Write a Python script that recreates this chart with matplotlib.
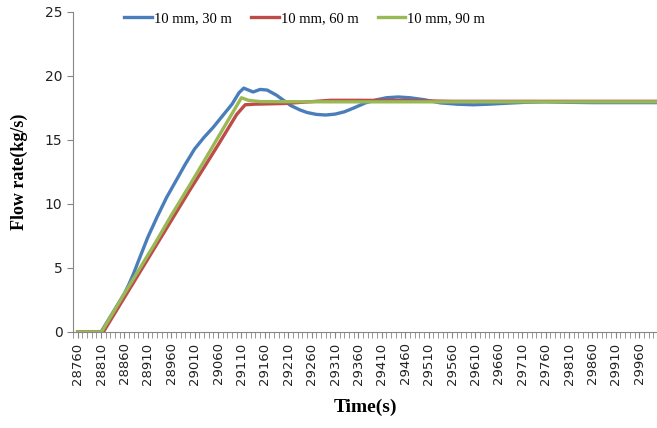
import numpy as np
import matplotlib
matplotlib.use("Agg")
import matplotlib.pyplot as plt
from matplotlib.ticker import MultipleLocator

# data (time in s, flow rate in kg/s)
t_30 = [28760, 28810, 28820, 28840, 28860, 28870, 28880, 28890, 28910, 28930, 28950,
        28970, 28990, 29010, 29030, 29050, 29070, 29090, 29105, 29115, 29125,
        29135, 29150, 29165, 29185, 29200, 29215, 29235, 29250, 29270, 29290,
        29310, 29330, 29350, 29375, 29400, 29420, 29445, 29470, 29500, 29535,
        29570, 29605, 29640, 29680, 29720, 29760, 29800, 29860, 30000]
q_30 = [0, 0, 0.6, 1.8, 3.0, 3.75, 4.6, 5.55, 7.4, 9.0, 10.5,
        11.8, 13.1, 14.3, 15.2, 16.0, 16.9, 17.8, 18.7, 19.05, 18.9,
        18.75, 18.95, 18.9, 18.5, 18.1, 17.7, 17.35, 17.15, 17.0, 16.95,
        17.02, 17.2, 17.5, 17.9, 18.15, 18.3, 18.36, 18.3, 18.15, 17.9,
        17.8, 17.75, 17.8, 17.88, 17.95, 17.98, 17.95, 17.92, 17.92]

t_60 = [28760, 28815, 28860, 28900, 28960, 29000, 29031, 29060, 29100, 29118,
        29140, 29200, 29262, 29300, 29360, 29460, 29560, 30000]
q_60 = [0, 0, 2.7, 5.1, 8.7, 11.1, 12.9, 14.6, 17.0, 17.75,
        17.8, 17.85, 18.0, 18.1, 18.1, 18.08, 18.02, 18.02]

t_90 = [28760, 28811, 28860, 28900, 28925, 28960, 29000, 29031, 29060, 29110,
        29125, 29150, 29300, 30000]
q_90 = [0, 0, 3.0, 5.4, 6.9, 9.1, 11.5, 13.4, 15.2, 18.3,
        18.1, 18.0, 17.98, 17.98]

labels = ['10 mm, 30 m', '10 mm, 60 m', '10 mm, 90 m']
colors = ['#4A7EBB', '#BE4B48', '#98B954']
xticks = list(range(28760, 29961, 50))

fig = plt.figure(figsize=(6.57, 4.28), dpi=100)
ax = fig.add_axes([0.111, 0.2243, 0.889, 0.7477])

ax.plot(t_30, q_30, color=colors[0], lw=2.4, label=labels[0])
ax.plot(t_60, q_60, color=colors[1], lw=2.4, label=labels[1])
ax.plot(t_90, q_90, color=colors[2], lw=2.4, label=labels[2])

ax.set_xlim(28750, 29998)
ax.set_ylim(0, 25)
ax.set_xticks(xticks)
ax.set_xticklabels([str(v) for v in xticks], rotation=90, fontsize=9.5,
                   family='DejaVu Sans', color='#222222')
ax.xaxis.set_minor_locator(MultipleLocator(10))
ax.set_yticks(range(0, 26, 5))
ax.tick_params(axis='y', labelsize=10, length=4, color='#868686', colors='#222222')
ax.tick_params(axis='x', which='both', length=4, color='#868686')

for s in ['top', 'right']:
    ax.spines[s].set_visible(False)
for s in ['left', 'bottom']:
    ax.spines[s].set_color('#868686')
    ax.spines[s].set_linewidth(0.8)

ax.set_xlabel('Time(s)', family='Liberation Serif', fontweight='bold', fontsize=14,
              labelpad=10)
ax.set_ylabel('Flow rate(kg/s)', family='Liberation Serif', fontweight='bold', fontsize=13,
              labelpad=12)

ax.legend(loc='upper center', bbox_to_anchor=(0.397, 1.04), ncol=3, frameon=False,
          prop={'family': 'Liberation Serif', 'size': 10.5}, handlelength=1.9,
          handletextpad=0.15, columnspacing=1.3)

plt.savefig('out.png', dpi=100)
